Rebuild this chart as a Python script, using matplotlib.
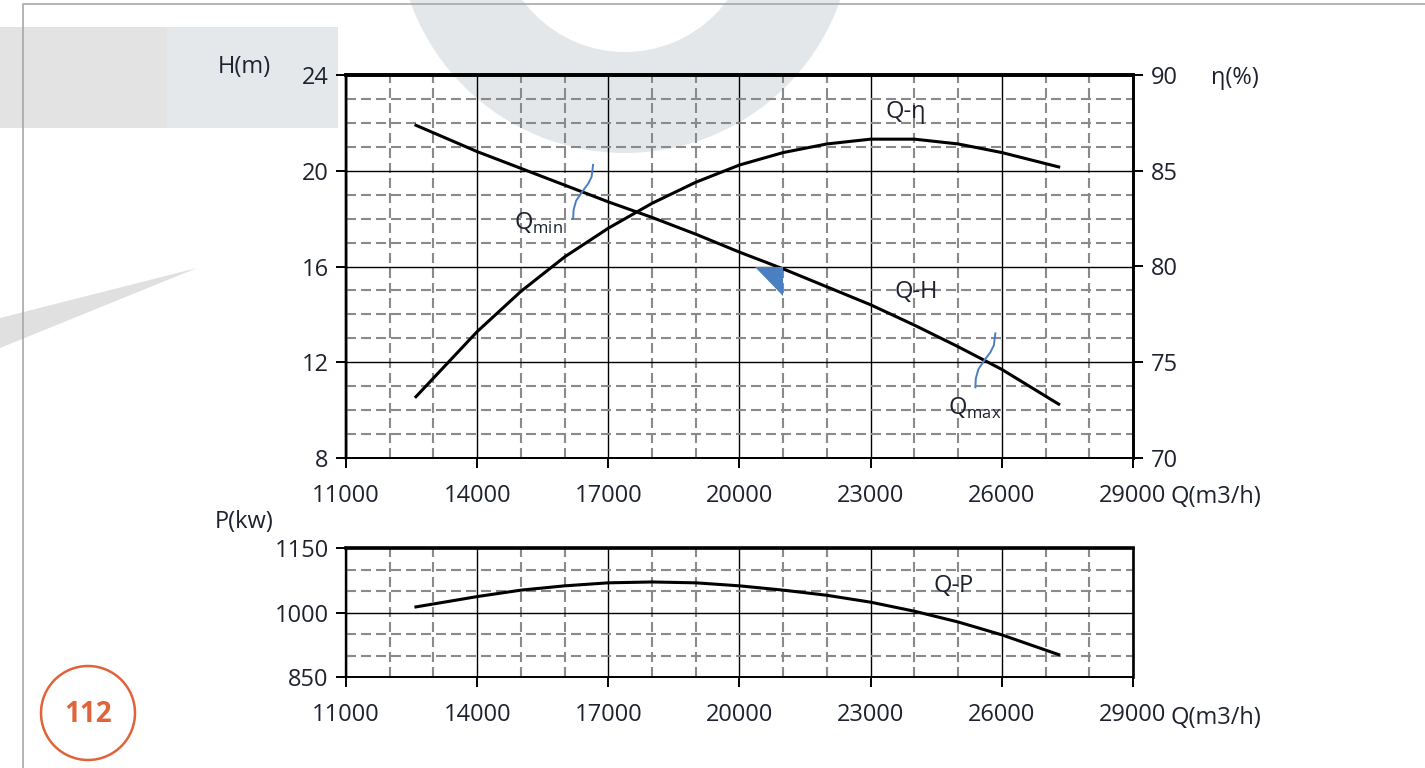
import numpy as np
import matplotlib
matplotlib.use('Agg')
import matplotlib.pyplot as plt
from matplotlib.patches import Wedge, Rectangle, Polygon, Circle
from matplotlib.transforms import Affine2D, ScaledTranslation

plt.rcParams['font.family'] = ['Open Sans', 'DejaVu Sans']

# pump curve data
flow = [12600, 14000, 15000, 16000, 17000, 18000, 19000, 20000,
        21000, 22000, 23000, 24000, 25000, 26000, 27300]
head = [21.9, 20.8, 20.1, 19.4, 18.7, 18.05, 17.35, 16.6,
        15.9, 15.15, 14.4, 13.55, 12.65, 11.7, 10.25]
efficiency = [73.2, 76.6, 78.7, 80.5, 82.0, 83.3, 84.4, 85.3,
              85.95, 86.4, 86.65, 86.65, 86.4, 85.95, 85.2]
power = [1013, 1037, 1052, 1062, 1069, 1071, 1069, 1062,
         1052, 1040, 1024, 1003, 978, 948, 902]

q_min = 16400
q_max = 25600
q_duty = 21000
h_duty = 16.0

x_ticks = list(range(11000, 29001, 3000))
h_ticks = list(range(8, 25, 4))
eta_ticks = list(range(70, 91, 5))
p_ticks = [850, 1000, 1150]

TXT = '#1e2230'
ORANGE = '#e0643a'
BLUE = '#4a7fc1'

fig = plt.figure(figsize=(14.25, 7.68), dpi=100)

# page decoration in pixel coords
bg = fig.add_axes([0, 0, 1, 1], zorder=0)
bg.set_xlim(0, 1425)
bg.set_ylim(768, 0)
bg.axis('off')
bg.add_patch(Rectangle((0, 27), 167, 101, color='#e3e3e3', lw=0))
bg.add_patch(Rectangle((167, 27), 171, 101, color='#e5e8eb', lw=0))
bg.add_patch(Wedge((625, -75), 228, 0, 360, width=101, color='#e4e7ea', lw=0))
bg.add_patch(Polygon([(0, 318), (197, 268), (0, 348)], color='#e0e0e0', lw=0))
bg.plot([23, 23, 1425], [768, 4, 4], color='#a8a8a8', lw=1.2)
bg.add_patch(Circle((88, 713), 47, fill=False, ec=ORANGE, lw=1.8))
bg.text(88, 715, '112', color=ORANGE, fontsize=20, fontweight='bold',
        ha='center', va='center')

bg.text(244, 67, 'H(m)', color=TXT, fontsize=17, ha='center', va='center')
bg.text(1235, 78, 'η(%)', color=TXT, fontsize=17, ha='center', va='center')
bg.text(1216, 497, 'Q(m3/h)', color=TXT, fontsize=17, ha='center', va='center')
bg.text(244, 522, 'P(kw)', color=TXT, fontsize=17, ha='center', va='center')
bg.text(1216, 718, 'Q(m3/h)', color=TXT, fontsize=17, ha='center', va='center')


def style_axes(ax, yticks, ylim, yminor):
    ax.set_facecolor('none')
    ax.set_xlim(11000, 29000)
    ax.set_ylim(*ylim)
    ax.set_xticks(x_ticks)
    ax.set_xticks(range(11000, 29001, 1000), minor=True)
    ax.set_yticks(yticks)
    ax.set_yticks(yminor, minor=True)
    ax.grid(which='major', color='black', lw=1.0)
    ax.grid(which='minor', color='#8a8a8a', lw=1.5, ls=(0, (4.8, 2.4)))
    ax.set_axisbelow(True)
    ax.tick_params(which='major', direction='out', length=7, width=1.4,
                   labelsize=17, labelcolor=TXT)
    ax.tick_params(which='minor', length=0)
    ax.tick_params(axis='x', pad=12)
    ax.tick_params(axis='y', pad=5.5)
    for side, lw in [('top', 2.6), ('left', 1.7), ('right', 1.9), ('bottom', 1.4)]:
        ax.spines[side].set_linewidth(lw)


# head / efficiency chart
ax = fig.add_axes([346 / 1425, 1 - 458 / 768, 787 / 1425, 383 / 768], zorder=1)
style_axes(ax, h_ticks, (8, 24), np.arange(8, 24.1, 1))
ax.plot(flow, head, color='black', lw=2.2, solid_joinstyle='round')

ax2 = ax.twinx()
ax2.set_ylim(70, 90)
ax2.set_yticks(eta_ticks)
ax2.tick_params(direction='out', length=7, width=1.4, labelsize=17,
                labelcolor=TXT, pad=6)
for side, lw in [('top', 2.6), ('left', 1.7), ('right', 1.9), ('bottom', 1.4)]:
    ax2.spines[side].set_linewidth(lw)
ax2.plot(flow, efficiency, color='black', lw=2.2, solid_joinstyle='round')

ax.text(24040, 14.94, 'Q-H', color=TXT, fontsize=17, ha='center', va='center')
ax2.text(23810, 88.07, 'Q-η', color=TXT, fontsize=17, ha='center', va='center')
ax.text(15390, 17.78, r'Q$_\mathregular{min}$', color=TXT, fontsize=17,
        ha='center', va='center')
ax.text(25390, 10.09, r'Q$_\mathregular{max}$', color=TXT, fontsize=17,
        ha='center', va='center')

# limit markers (S-shaped ticks) drawn in pixel offsets around the curve point
s_dx = [-9, -8.5, -6, 0, 6, 9.5, 11]
s_dy = [-27, -18, -9, 0, 8, 15, 27]
for q in [q_min, q_max]:
    h = np.interp(q, flow, head)
    tr = Affine2D() + ScaledTranslation(q, h, ax.transData)
    ax.plot(s_dx, s_dy, color=BLUE, lw=1.4, transform=tr, clip_on=False)

# duty point triangle
tr = Affine2D() + ScaledTranslation(q_duty, h_duty, ax.transData)
ax.add_patch(Polygon([(-28, 0), (0, 0), (0, -29)], closed=True, color=BLUE,
                     lw=0, transform=tr, zorder=4))

# power chart
axp = fig.add_axes([346 / 1425, 1 - 677 / 768, 787 / 1425, 129 / 768], zorder=1)
style_axes(axp, p_ticks, (850, 1150), np.arange(850, 1151, 50))
axp.plot(flow, power, color='black', lw=2.2, solid_joinstyle='round')
axp.text(24900, 1061, 'Q-P', color=TXT, fontsize=17, ha='center', va='center')

fig.savefig('out.png', dpi=100)
